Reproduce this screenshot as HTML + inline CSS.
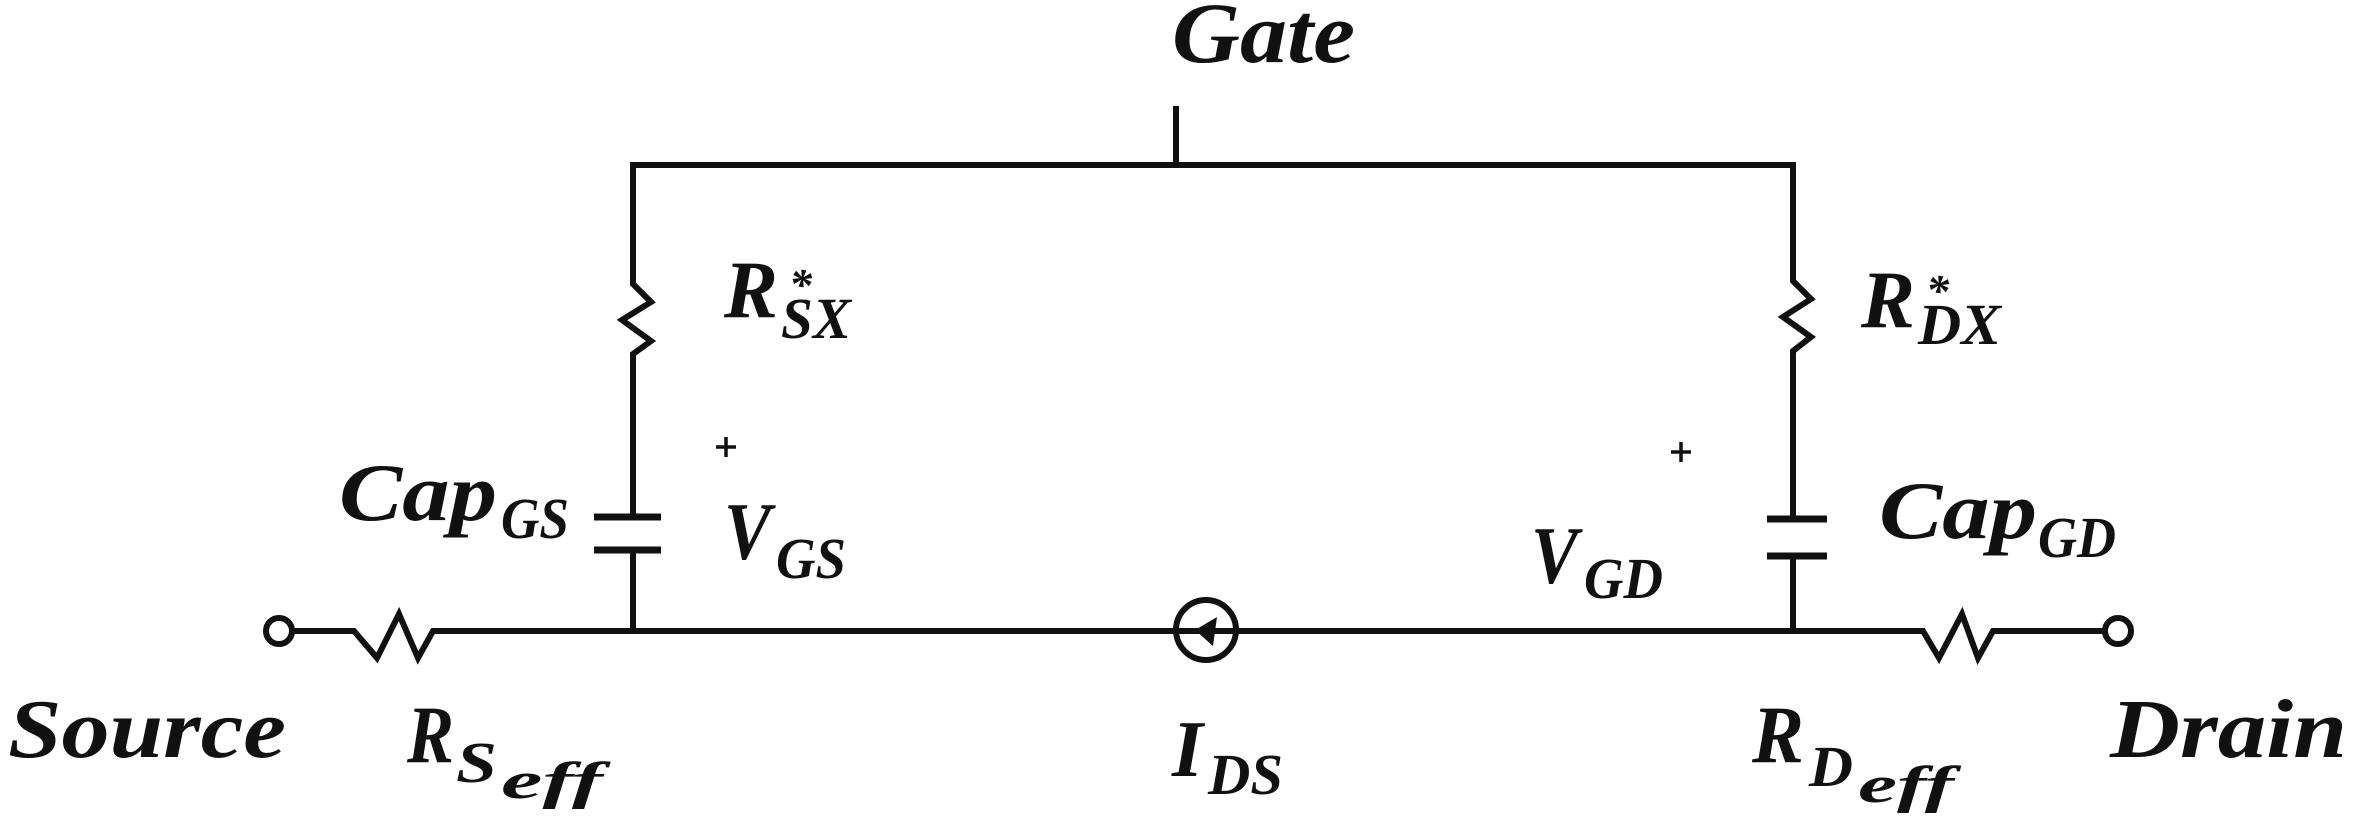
<!DOCTYPE html>
<html><head><meta charset="utf-8"><style>
html,body{margin:0;padding:0;background:#fff;}
svg{display:block;}
text{font-family:"Liberation Serif",serif;font-weight:bold;font-style:italic;fill:#111;}
</style></head><body>
<svg width="2362" height="816" viewBox="0 0 2362 816" xmlns="http://www.w3.org/2000/svg">
<g fill="none" stroke="#111" stroke-width="6" stroke-linejoin="miter">
<path d="M630,165 H1796"/>
<path d="M1176,106 V165"/>
<path d="M633,165 V284 L651,302 L622,320 L651,341 L633,354 V517"/>
<path d="M594,517 H661 M594,550 H661" stroke-width="7"/>
<path d="M633,550 V631"/>
<path d="M1793,165 V281 L1811,299 L1783,317 L1811,337 L1793,351 V519"/>
<path d="M1767,519 H1827 M1767,556 H1827" stroke-width="7"/>
<path d="M1793,556 V631"/>
<path d="M292,631 H354 L377,658 L399,614 L418,658 L433,631 H1923 L1939,658 L1962,614 L1978,658 L1993,631 H2105"/>
<circle cx="279" cy="631" r="13"/>
<circle cx="2118" cy="631" r="13"/>
<circle cx="1206" cy="630" r="30"/>
<path d="M716,447 H736 M726,437 V457 M1671,452 H1691 M1681,442 V462" stroke-width="3.5"/>
</g>
<polygon points="1195,630 1217,617 1213,646" fill="#111"/>

<text x="1172" y="62" font-size="86" textLength="183" lengthAdjust="spacingAndGlyphs">Gate</text>

<text x="724" y="317" font-size="82" textLength="54" lengthAdjust="spacingAndGlyphs">R</text>
<text x="789" y="300" font-size="46" font-style="normal">*</text>
<text x="781" y="338" font-size="58" textLength="70" lengthAdjust="spacingAndGlyphs">SX</text>

<text x="1861" y="327" font-size="82" textLength="54" lengthAdjust="spacingAndGlyphs">R</text>
<text x="1926" y="306" font-size="46" font-style="normal">*</text>
<text x="1918" y="344" font-size="58" textLength="83" lengthAdjust="spacingAndGlyphs">DX</text>

<text x="339" y="520" font-size="82" textLength="158" lengthAdjust="spacingAndGlyphs">Cap</text>
<text x="501" y="538" font-size="58" textLength="68" lengthAdjust="spacingAndGlyphs">GS</text>

<text x="724" y="559" font-size="82" textLength="47" lengthAdjust="spacingAndGlyphs">V</text>
<text x="776" y="578" font-size="58" textLength="70" lengthAdjust="spacingAndGlyphs">GS</text>

<text x="1879" y="538" font-size="82" textLength="158" lengthAdjust="spacingAndGlyphs">Cap</text>
<text x="2038" y="557" font-size="58" textLength="78" lengthAdjust="spacingAndGlyphs">GD</text>

<text x="1531" y="583" font-size="82" textLength="47" lengthAdjust="spacingAndGlyphs">V</text>
<text x="1584" y="598" font-size="58" textLength="79" lengthAdjust="spacingAndGlyphs">GD</text>

<text x="8" y="757" font-size="84" textLength="278" lengthAdjust="spacingAndGlyphs">Source</text>

<text x="407" y="762" font-size="82" textLength="47" lengthAdjust="spacingAndGlyphs">R</text>
<text x="456" y="782" font-size="58" textLength="41" lengthAdjust="spacingAndGlyphs">S</text>
<text x="501" y="798" font-size="52" textLength="102" lengthAdjust="spacingAndGlyphs">eff</text>

<text x="1172" y="776" font-size="80" textLength="31" lengthAdjust="spacingAndGlyphs">I</text>
<text x="1208" y="794" font-size="58" textLength="75" lengthAdjust="spacingAndGlyphs">DS</text>

<text x="1752" y="762" font-size="82" textLength="52" lengthAdjust="spacingAndGlyphs">R</text>
<text x="1809" y="786" font-size="58" textLength="44" lengthAdjust="spacingAndGlyphs">D</text>
<text x="1858" y="802" font-size="52" textLength="96" lengthAdjust="spacingAndGlyphs">eff</text>

<text x="2110" y="757" font-size="84" textLength="237" lengthAdjust="spacingAndGlyphs">Drain</text>
</svg>
</body></html>
